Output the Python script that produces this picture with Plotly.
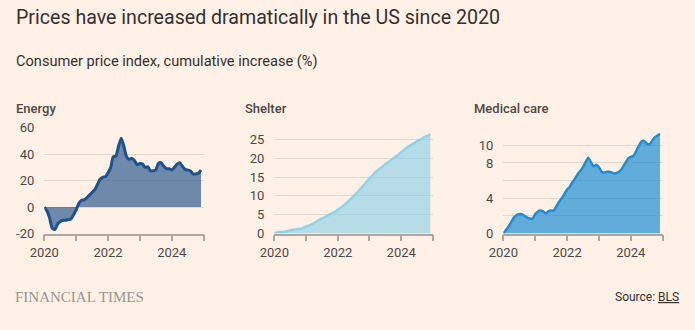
import pandas as pd
import plotly.graph_objects as go

months = pd.date_range("2020-01-01", "2024-12-01", freq="MS")

energy = [0, -3, -8, -16, -17, -13, -11, -10, -10, -9.5, -9, -6,
          -2, 3, 5, 5.5, 7, 9, 11, 13, 17, 21, 22.5, 23,
          26, 30, 38, 38.5, 46, 52, 46, 38, 36, 37, 35, 32,
          33, 32.5, 30, 30.5, 27.5, 27.5, 28, 33, 33.5, 31, 29, 29,
          28, 30, 32.5, 33.5, 31, 28.5, 28, 27.5, 25, 25, 25.5, 28]

shelter = [0, 0.3, 0.4, 0.4, 0.5, 0.6, 0.8, 1.0, 1.1, 1.2, 1.3, 1.5,
           1.9, 2.1, 2.4, 2.8, 3.2, 3.6, 4.0, 4.3, 4.7, 5.1, 5.5, 5.8,
           6.3, 6.8, 7.3, 7.9, 8.5, 9.2, 9.9, 10.6, 11.4, 12.2, 13.0, 13.8,
           14.6, 15.4, 16.1, 16.7, 17.3, 17.8, 18.4, 18.9, 19.4, 20.0, 20.5, 21.0,
           21.6, 22.2, 22.7, 23.2, 23.6, 24.0, 24.5, 24.9, 25.3, 25.7, 26.0, 26.3]

medical = [0, 0.4, 0.8, 1.3, 1.8, 2.1, 2.2, 2.2, 2.0, 1.8, 1.7, 1.7,
           2.2, 2.5, 2.6, 2.5, 2.3, 2.5, 2.6, 2.6, 3.1, 3.6, 4.0, 4.5,
           5.0, 5.3, 5.8, 6.2, 6.7, 7.1, 7.5, 8.1, 8.6, 8.1, 7.6, 7.8,
           7.5, 7.0, 6.9, 7.0, 7.0, 6.9, 6.8, 6.9, 7.1, 7.5, 8.0, 8.5,
           8.7, 8.8, 9.3, 9.9, 10.4, 10.5, 10.2, 10.1, 10.5, 10.9, 11.1, 11.3]

panel_titles = ["Energy", "Shelter", "Medical care"]
year_ticks = ["2020-01-01", "2021-01-01", "2022-01-01", "2023-01-01", "2024-01-01", "2025-01-01"]
year_labels = ["2020", "", "2022", "", "2024", ""]

energy_ticks = [-20, 0, 20, 40, 60]
shelter_ticks = [0, 5, 10, 15, 20, 25]
medical_ticks = [0, 2, 4, 6, 8, 10, 12]
medical_labels = ["0", "", "4", "", "8", "10", ""]

BG = "#fff1e5"
GRID = "#e3d8ce"
AXIS = "#b0a69e"
TXT = "#4d4845"
FONT = "Roboto"

fig = go.Figure()

series = [
    (energy, "#1b5290", "rgba(30,78,138,0.64)", 3),
    (shelter, "#8dd4ea", "rgba(135,206,232,0.62)", 2.5),
    (medical, "#1c8fd4", "rgba(30,143,211,0.70)", 2.5),
]
for i, (vals, lc, fc, lw) in enumerate(series):
    suffix = "" if i == 0 else str(i + 1)
    fig.add_trace(go.Scatter(
        x=months, y=vals, mode="lines", fill="tozeroy",
        line=dict(color=lc, width=lw, shape="spline", smoothing=0.5),
        fillcolor=fc, xaxis="x" + suffix, yaxis="y" + suffix,
        showlegend=False, hoverinfo="skip"))

xdoms = [[0.0637, 0.2931], [0.3947, 0.6230], [0.7242, 0.9535]]
ydom = [0.2924, 0.613]
yranges = [[-20, 60], [0, 28.1], [0, 12]]
yticks = [(energy_ticks, [str(v) for v in energy_ticks]),
          (shelter_ticks, [str(v) for v in shelter_ticks]),
          (medical_ticks, medical_labels)]

layout = dict(
    template="none",
    width=695, height=330,
    margin=dict(l=0, r=0, t=0, b=0, pad=0, autoexpand=False),
    paper_bgcolor=BG, plot_bgcolor=BG,
    font=dict(family=FONT, color=TXT, size=13),
)
for i in range(3):
    suffix = "" if i == 0 else str(i + 1)
    layout["xaxis" + suffix] = dict(
        domain=xdoms[i], anchor="y" + suffix, type="date",
        range=["2020-01-01", "2025-01-01"],
        tickvals=year_ticks, ticktext=year_labels, automargin=False,
        ticks="outside", ticklen=6, tickcolor=AXIS, tickwidth=1.5,
        showline=True, linecolor=AXIS, linewidth=1.5,
        showgrid=False, zeroline=False,
        tickfont=dict(size=13, color=TXT, family=FONT), fixedrange=True)
    layout["yaxis" + suffix] = dict(
        domain=ydom, anchor="x" + suffix, range=yranges[i],
        tickvals=yticks[i][0], ticktext=yticks[i][1], automargin=False,
        showgrid=True, gridcolor=GRID, gridwidth=1,
        zeroline=False, showline=False, ticks="",
        ticklabelstandoff=9,
        tickfont=dict(size=13, color=TXT, family=FONT), fixedrange=True)

fig.update_layout(**layout)

anns = [
    dict(text="Prices have increased dramatically in the US since 2020", x=14, y=17,
         font=dict(size=19.6, color="#33302e", family=FONT)),
    dict(text="Consumer price index, cumulative increase (%)", x=14, y=60.5,
         font=dict(size=14.6, color="#33302e", family=FONT)),
    dict(text=panel_titles[0], x=14, y=108, font=dict(size=13, color=TXT, family=FONT, weight=500)),
    dict(text=panel_titles[1], x=243, y=108, font=dict(size=13, color=TXT, family=FONT, weight=500)),
    dict(text=panel_titles[2], x=472, y=108, font=dict(size=13, color=TXT, family=FONT, weight=500)),
    dict(text="FINANCIAL TIMES", x=13, y=297,
         font=dict(size=15, color="#9b948f", family="Liberation Serif")),
]
for a in anns:
    fig.add_annotation(text=a["text"], x=a["x"] / 695, y=1 - a["y"] / 330,
                       xref="paper", yref="paper", xanchor="left", yanchor="middle",
                       showarrow=False, font=a["font"])
fig.add_annotation(text="Source: <u>BLS</u>", x=681 / 695, y=1 - 297 / 330,
                   xref="paper", yref="paper", xanchor="right", yanchor="middle",
                   showarrow=False, font=dict(size=12, color="#33302e", family=FONT))

fig.write_html("out.html")
